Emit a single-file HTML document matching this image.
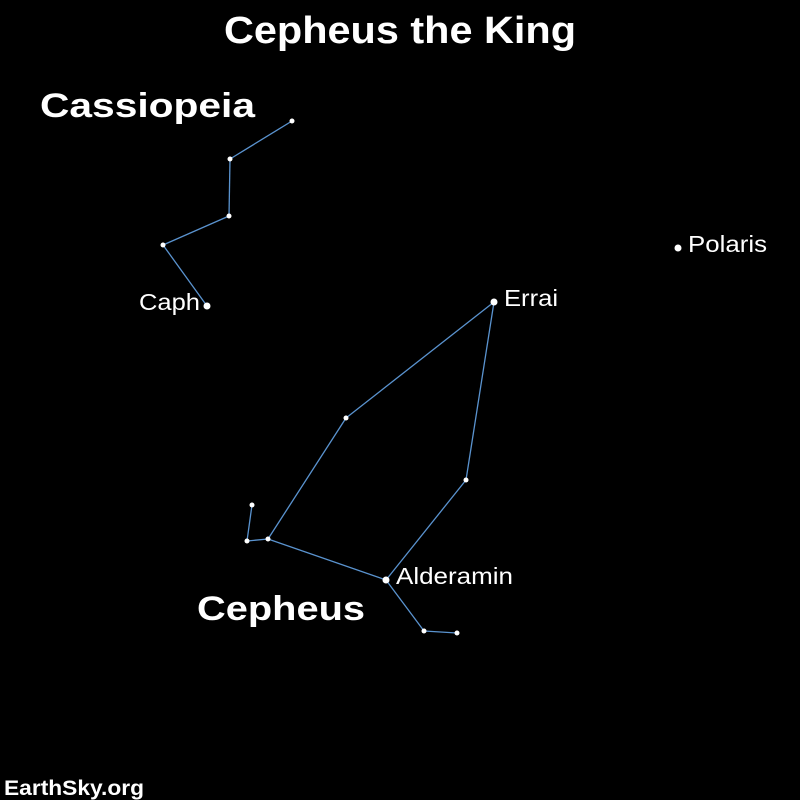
<!DOCTYPE html>
<html><head><meta charset="utf-8"><style>
html,body{margin:0;padding:0;background:#000;width:800px;height:800px;overflow:hidden}
svg{display:block;font-family:"Liberation Sans",Arial,sans-serif}
</style></head><body>
<svg width="800" height="800" viewBox="0 0 800 800">
<rect width="800" height="800" fill="#000"/>
<text x="224" y="43" font-size="38" font-weight="bold" fill="#fff" textLength="352" lengthAdjust="spacingAndGlyphs">Cepheus the King</text>
<text x="40" y="117" font-size="34" font-weight="bold" fill="#fff" textLength="215" lengthAdjust="spacingAndGlyphs">Cassiopeia</text>
<text x="197" y="620" font-size="34" font-weight="bold" fill="#fff" textLength="168" lengthAdjust="spacingAndGlyphs">Cepheus</text>
<text x="4" y="795" font-size="21" font-weight="bold" fill="#fff" textLength="140" lengthAdjust="spacingAndGlyphs">EarthSky.org</text>
<g id="lines" stroke="#5a93cf" stroke-width="1.3" fill="none"></g>
<g id="stars" fill="#fff"></g>
<g id="labels" fill="#fff" font-size="23"></g>
</svg>
<script>
const starNames=["cas1","cas2","cas3","cas4","caph","errai","cep2","cep3","cep4","cep5","alderamin","cep7","cep8","cep9","polaris"];
const starX=[292,230,229,163,207,494,346,268,247,252,386,466,424,457,678];
const starY=[121,159,216,245,306,302,418,539,541,505,580,480,631,633,248];
const starR=[2.5,2.5,2.5,2.5,3.5,3.5,2.5,2.5,2.5,2.5,3.5,2.5,2.5,2.5,3.5];
const segments=[[0,1],[1,2],[2,3],[3,4],[5,6],[6,7],[7,10],[10,11],[11,5],[7,8],[8,9],[10,12],[12,13]];
const labelText=["Caph","Errai","Alderamin","Polaris"];
const labelStar=[4,5,10,14];
const labelAnchor=["end","start","start","start"];
const labelWidth=[61,54,117,79];
const NS="http://www.w3.org/2000/svg";
const gl=document.getElementById("lines"),gs=document.getElementById("stars"),gt=document.getElementById("labels");
segments.forEach(s=>{
  const l=document.createElementNS(NS,"line");
  l.setAttribute("x1",starX[s[0]]);l.setAttribute("y1",starY[s[0]]);
  l.setAttribute("x2",starX[s[1]]);l.setAttribute("y2",starY[s[1]]);
  
  
  gl.appendChild(l);
});
starNames.forEach((n,i)=>{
  const c=document.createElementNS(NS,"circle");
  c.setAttribute("cx",starX[i]);c.setAttribute("cy",starY[i]);c.setAttribute("r",starR[i]);
  
  
  gs.appendChild(c);
});
labelText.forEach((t,i)=>{
  const k=labelStar[i];
  const e=document.createElementNS(NS,"text");
  const end=labelAnchor[i]==="end";
  e.setAttribute("x",starX[k]+(end?-7:10));e.setAttribute("y",starY[k]+4);
  e.setAttribute("text-anchor",labelAnchor[i]);
  e.setAttribute("textLength",labelWidth[i]);
  e.setAttribute("lengthAdjust","spacingAndGlyphs");
  e.textContent=t;
  
  
  gt.appendChild(e);
});
</script>
</body></html>
